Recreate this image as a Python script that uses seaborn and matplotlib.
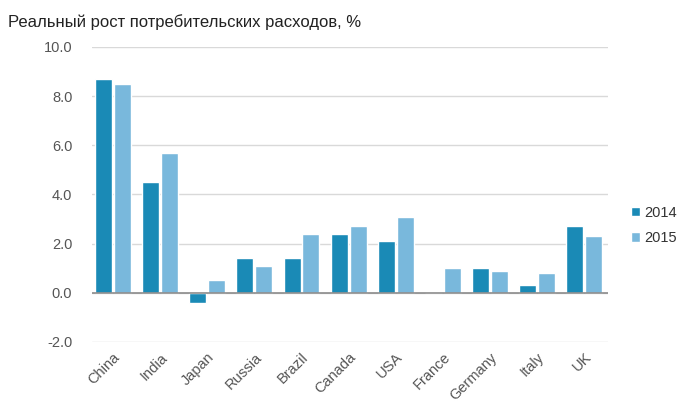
import matplotlib
matplotlib.use("Agg")
import matplotlib.pyplot as plt
import seaborn as sns
import pandas as pd
from matplotlib.ticker import FormatStrFormatter

countries = ["China", "India", "Japan", "Russia", "Brazil", "Canada", "USA",
             "France", "Germany", "Italy", "UK"]
years = ["2014", "2015"]
values_2014 = [8.7, 4.5, -0.4, 1.4, 1.4, 2.4, 2.1, 0.0, 1.0, 0.3, 2.7]
values_2015 = [8.5, 5.7, 0.5, 1.1, 2.4, 2.7, 3.1, 1.0, 0.9, 0.8, 2.3]
title = "Реальный рост потребительских расходов, %"

df = pd.DataFrame({
    "country": countries * 2,
    "year": [years[0]] * len(countries) + [years[1]] * len(countries),
    "value": values_2014 + values_2015,
})

sns.set_style("white")
plt.rcParams["font.family"] = ["Liberation Sans", "DejaVu Sans"]

fig = plt.figure(figsize=(6.9, 4.08), dpi=100)
ax = fig.add_axes([0.133, 0.162, 0.748, 0.723])

palette = {"2014": "#1A8AB6", "2015": "#79B8DC"}
sns.barplot(data=df, x="country", y="value", hue="year", palette=palette,
            order=countries, hue_order=years, width=0.8, gap=0.1,
            saturation=1, ax=ax, legend=True, zorder=3)

ax.set_ylim(-2, 10)
ax.set_xlim(-0.45, 10.5)
ax.set_yticks([-2, 0, 2, 4, 6, 8, 10])
ax.yaxis.set_major_formatter(FormatStrFormatter("%.1f"))
ax.grid(axis="y", color="#D9D9D9", linewidth=1, zorder=0)
ax.axhline(0, color="#8C8C8C", linewidth=1.2, zorder=4)
for s in ax.spines.values():
    s.set_visible(False)
ax.tick_params(axis="both", length=0, labelsize=10.5, labelcolor="#555555")
ax.tick_params(axis="y", pad=14)
ax.tick_params(axis="x", pad=6)
plt.setp(ax.get_xticklabels(), rotation=45, ha="right", rotation_mode="anchor")
ax.set_xlabel("")
ax.set_ylabel("")

leg = ax.legend(loc="center left", bbox_to_anchor=(1.02, 0.395), frameon=False,
                fontsize=10.5, handlelength=0.6, handleheight=0.6,
                handletextpad=0.3, labelspacing=0.8)
for t in leg.get_texts():
    t.set_color("#333333")

fig.text(0.012, 0.945, title, fontsize=12, color="#222222", ha="left", va="center")

fig.savefig("out.png", dpi=100, facecolor="white")
